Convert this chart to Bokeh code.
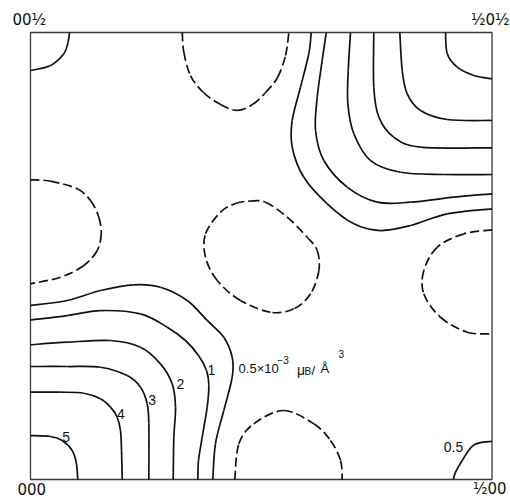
from bokeh.plotting import figure
from bokeh.models import Range1d
from bokeh.embed import file_html
from bokeh.resources import INLINE
from bokeh.core.properties import value

# Magnetisation density map, section (h 0 l), 0 <= h, l <= 1/2
# Contours (h along x, l along y)

# map extent (cell section shown)
h_extent = [0.0, 0.5]
l_extent = [0.0, 0.5]

# ---- solid contours around 000 (levels 5,4,3,2,1,0.5) ----
c5_h = [0.0, 0.0217, 0.0343, 0.0452, 0.0498, 0.0512]
c5_l = [0.0492, 0.0481, 0.0436, 0.0324, 0.0176, 0.0]
c4_h = [0.0, 0.0325, 0.0577, 0.0758, 0.0867, 0.0939, 0.0975, 0.0986, 0.0994]
c4_l = [0.0977, 0.0977, 0.0965, 0.0903, 0.0809, 0.0697, 0.0548, 0.0324, 0.0]
c3_h = [0.0, 0.0398, 0.0758, 0.1048, 0.1192, 0.1264, 0.1282, 0.1282]
c3_l = [0.1264, 0.1264, 0.1256, 0.1163, 0.1032, 0.0847, 0.0623, 0.0]
c2_h = [0.0, 0.0398, 0.0867, 0.1192, 0.1408, 0.1535, 0.1571, 0.1553, 0.1546]
c2_l = [0.1507, 0.1536, 0.1555, 0.1480, 0.1294, 0.1070, 0.0809, 0.0473, 0.0]
c1_h = [0.0, 0.0398, 0.0758, 0.1192, 0.1481, 0.1679, 0.1820, 0.1907, 0.1932,
        0.1914, 0.1860, 0.1820, 0.1813]
c1_l = [0.1786, 0.1834, 0.1890, 0.1853, 0.1704, 0.1555, 0.1387, 0.1219, 0.1051,
        0.0809, 0.0473, 0.0213, 0.0]
c05_h = [0.0, 0.0398, 0.0758, 0.1119, 0.1408, 0.1698, 0.1914, 0.2094, 0.2185,
         0.2185, 0.2094, 0.2004, 0.1975]
c05_l = [0.1946, 0.2002, 0.2114, 0.2178, 0.2151, 0.2002, 0.1779, 0.1592, 0.1368,
         0.1144, 0.0772, 0.0403, 0.0]

# ---- solid contours around 1/2 0 1/2 ----
t6_h = [0.4496, 0.4515, 0.4623, 0.4803, 0.5]
t6_l = [0.5, 0.4762, 0.4612, 0.4519, 0.4482]
t5_h = [0.4001, 0.4027, 0.4081, 0.4225, 0.4515, 0.5]
t5_l = [0.5, 0.4575, 0.4314, 0.4128, 0.4027, 0.4016]
t4_h = [0.3719, 0.3719, 0.3774, 0.3936, 0.4225, 0.5]
t4_l = [0.5, 0.4388, 0.4053, 0.3829, 0.3717, 0.3710]
t3_h = [0.3467, 0.3442, 0.3438, 0.3503, 0.3684, 0.4009, 0.4478, 0.5]
t3_l = [0.5, 0.4575, 0.4202, 0.3867, 0.3568, 0.3437, 0.3412, 0.3412]
t2_h = [0.3204, 0.3160, 0.3106, 0.3088, 0.3178, 0.3431, 0.3756, 0.4117, 0.4586, 0.5]
t2_l = [0.5, 0.4687, 0.4276, 0.3904, 0.3568, 0.3270, 0.3102, 0.3102, 0.3158, 0.3196]
t1_h = [0.3041, 0.3015, 0.2925, 0.2835, 0.2835, 0.2961, 0.3215, 0.3503, 0.3792,
        0.4117, 0.4515, 0.5]
t1_l = [0.5, 0.4762, 0.4388, 0.4016, 0.3717, 0.3381, 0.3084, 0.2860, 0.2785,
        0.2841, 0.2972, 0.3028]

# ---- small solid 0.5 contours at 00 1/2 and 1/2 00 ----
tl_h = [0.0, 0.0217, 0.0361, 0.0406, 0.0423]
tl_l = [0.4575, 0.4631, 0.4762, 0.4888, 0.5]
br_h = [0.5, 0.4803, 0.4677, 0.4605, 0.4580]
br_l = [0.0428, 0.0386, 0.0213, 0.0082, 0.0]

# ---- dashed (negative) contours ----
dtop_h = [0.1644, 0.1661, 0.1733, 0.1874, 0.2059, 0.2239, 0.2405, 0.2546, 0.2676, 0.2763, 0.2799]
dtop_l = [0.5, 0.4780, 0.4519, 0.4329, 0.4195, 0.4128, 0.4195, 0.4329, 0.4497, 0.4743, 0.5]
dleft_h = [0.0, 0.0217, 0.0506, 0.0650, 0.0740, 0.0766, 0.0723, 0.0577, 0.0325, 0.0]
dleft_l = [0.3352, 0.3337, 0.3252, 0.3121, 0.2934, 0.2748, 0.2562, 0.2394, 0.2263, 0.2189]
dmid_h = [0.2384, 0.2546, 0.2781, 0.2998, 0.3106, 0.3124, 0.3034, 0.2853, 0.2600,
          0.2275, 0.2023, 0.1896, 0.1896, 0.2059, 0.2221, 0.2384]
dmid_l = [0.3115, 0.3102, 0.2934, 0.2710, 0.2562, 0.2338, 0.2077, 0.1909, 0.1871,
          0.2002, 0.2226, 0.2487, 0.2748, 0.2990, 0.3087, 0.3115]
dright_h = [0.5, 0.4694, 0.4406, 0.4261, 0.4261, 0.4442, 0.4731, 0.5]
dright_l = [0.2793, 0.2748, 0.2598, 0.2338, 0.2077, 0.1815, 0.1648, 0.1630]
dbot_h = [0.2213, 0.2257, 0.2419, 0.2744, 0.3069, 0.3250, 0.3359, 0.3377]
dbot_l = [0.0, 0.0399, 0.0623, 0.0772, 0.0623, 0.0436, 0.0213, 0.0]

# labels
level_labels = ["5", "4", "3", "2", "1", "0.5"]
corner_labels = ["00½", "½0½", "000", "½00"]

solid = [(c5_h, c5_l), (c4_h, c4_l), (c3_h, c3_l), (c2_h, c2_l), (c1_h, c1_l),
         (c05_h, c05_l), (t6_h, t6_l), (t5_h, t5_l), (t4_h, t4_l), (t3_h, t3_l),
         (t2_h, t2_l), (t1_h, t1_l), (tl_h, tl_l), (br_h, br_l)]
dashed = [(dtop_h, dtop_l), (dleft_h, dleft_l), (dmid_h, dmid_l),
          (dright_h, dright_l), (dbot_h, dbot_l)]

FONT = "Liberation Sans"
CFONT = "DejaVu Sans"
INK = "#111111"

# the whole canvas is the frame; the map square 0..1/2 is drawn as a box inside it
p = figure(width=510, height=502, output_backend="svg", toolbar_location=None,
           x_range=Range1d(-0.0325, 0.5200), y_range=Range1d(-0.0257, 0.5358),
           x_axis_location=None, y_axis_location=None,
           min_border_left=0, min_border_right=0, min_border_top=0,
           min_border_bottom=0)
p.grid.visible = False
p.outline_line_color = None
p.background_fill_color = "white"
p.border_fill_color = "white"

p.quad(left=[h_extent[0]], right=[h_extent[1]], bottom=[l_extent[0]], top=[l_extent[1]],
       fill_color=None, line_color="#3a3a3a", line_width=1.3)


def bezier_parts(xs, ys):
    """Smooth curve through the traced points (Catmull-Rom as cubic Beziers)."""
    n = len(xs)
    closed = xs[0] == xs[-1] and ys[0] == ys[-1]
    out = {k: [] for k in ("x0", "y0", "x1", "y1", "cx0", "cy0", "cx1", "cy1")}
    for i in range(n - 1):
        if closed:
            a = i - 1 if i > 0 else n - 2
            d = i + 2 if i + 2 < n else 1
        else:
            a = max(i - 1, 0)
            d = min(i + 2, n - 1)
        out["x0"].append(xs[i]); out["y0"].append(ys[i])
        out["x1"].append(xs[i + 1]); out["y1"].append(ys[i + 1])
        out["cx0"].append(xs[i] + (xs[i + 1] - xs[a]) / 6)
        out["cy0"].append(ys[i] + (ys[i + 1] - ys[a]) / 6)
        out["cx1"].append(xs[i + 1] - (xs[d] - xs[i]) / 6)
        out["cy1"].append(ys[i + 1] - (ys[d] - ys[i]) / 6)
    return out


for xs, ys in solid:
    p.bezier(**bezier_parts(xs, ys), line_color=INK, line_width=1.7)
for xs, ys in dashed:
    p.bezier(**bezier_parts(xs, ys), line_color=INK, line_width=1.7, line_dash="9 4")

# level labels next to contours
lab_h = [0.0387, 0.0978, 0.1318, 0.1625, 0.1959, 0.4583]
lab_l = [0.0473, 0.0733, 0.0895, 0.1074, 0.1225, 0.0361]
p.text(x=lab_h, y=lab_l, text=level_labels, text_font=value(FONT),
       text_font_size="14px", text_align="center", text_baseline="middle",
       text_color=INK)


# unit label: 0.5x10^-3 mu_B / A^3
def piece(x, y, s, size):
    p.text(x=[x], y=[y], text=[s], text_font=value(FONT), text_font_size=size,
           text_align="left", text_baseline="alphabetic", text_color=INK)


piece(0.2254, 0.1242, "0.5×10", "13px")
piece(0.2676, 0.1342, "−3", "10px")
piece(0.2887, 0.1220, "μ", "14px")
piece(0.2969, 0.1208, "B", "10px")
piece(0.3045, 0.1219, "/", "13px")
piece(0.3142, 0.1242, "Å", "13px")
piece(0.3337, 0.1409, "3", "10px")

# corner reciprocal-space labels
left_h = [-0.0195, -0.0141]
left_l = [0.5145, -0.0106]
p.text(x=left_h, y=left_l, text=[corner_labels[0], corner_labels[2]],
       text_font=value(CFONT), text_font_size="15px", text_align="left",
       text_baseline="middle", text_color=INK)
right_h = [0.5190, 0.5157]
right_l = [0.5145, -0.0106]
p.text(x=right_h, y=right_l, text=[corner_labels[1], corner_labels[3]],
       text_font=value(CFONT), text_font_size="15px", text_align="right",
       text_baseline="middle", text_color=INK)

open("out.html", "w").write(file_html(p, INLINE))
